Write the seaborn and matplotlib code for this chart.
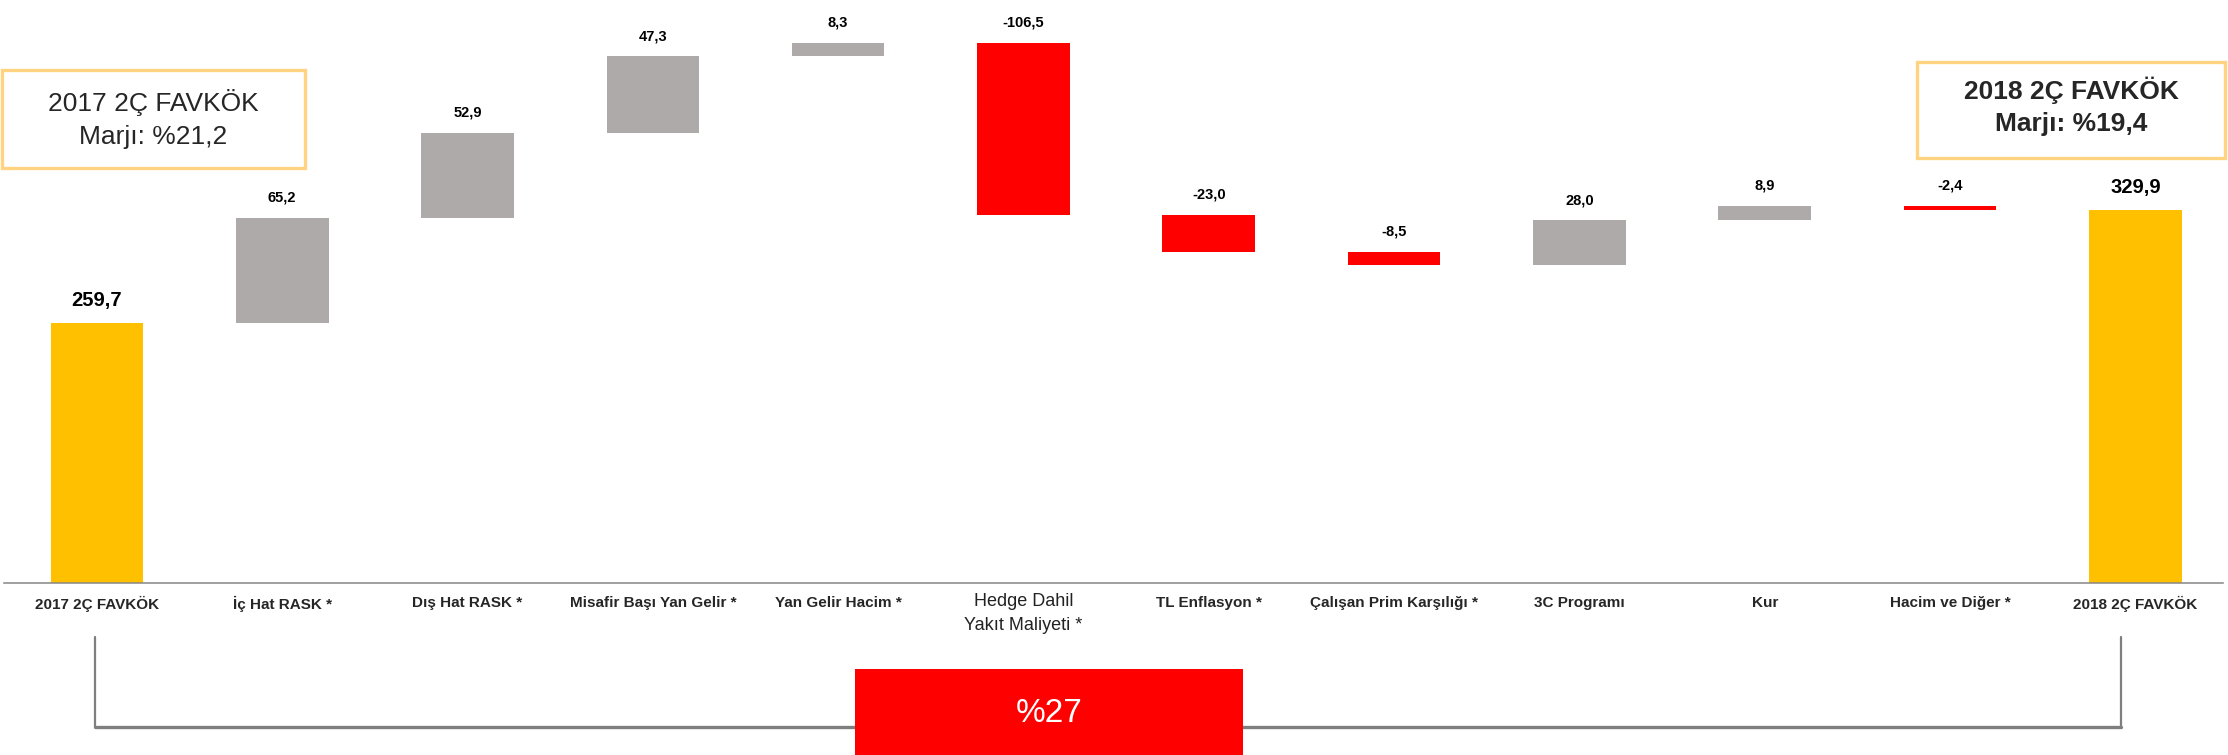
import numpy as np
import pandas as pd
import matplotlib
matplotlib.use('Agg')
import matplotlib.pyplot as plt
import seaborn as sns
from matplotlib.patches import Rectangle
from matplotlib.lines import Line2D

# data
categories = ['2017 2Ç FAVKÖK', 'İç Hat RASK *', 'Dış Hat RASK *', 'Misafir Başı Yan Gelir *',
              'Yan Gelir Hacim *', 'Hedge Dahil\nYakıt Maliyeti *', 'TL Enflasyon *',
              'Çalışan Prim Karşılığı *', '3C Programı', 'Kur', 'Hacim ve Diğer *', '2018 2Ç FAVKÖK']
values = [259.7, 65.2, 52.9, 47.3, 8.3, -106.5, -23.0, -8.5, 28.0, 8.9, -2.4, 329.9]
is_total = [True, False, False, False, False, False, False, False, False, False, False, True]
margin_2017 = 'Marjı: %21,2'
margin_2018 = 'Marjı: %19,4'
growth_label = '%27'

sns.set_style('white')
plt.rcParams['font.family'] = ['Liberation Sans', 'DejaVu Sans']

# waterfall start / end levels
starts, ends = [], []
running = 0.0
for v, tot in zip(values, is_total):
    if tot:
        starts.append(0.0)
        ends.append(v)
        running = v
    else:
        starts.append(running)
        running += v
        ends.append(running)

kind = ['total' if t else ('up' if v >= 0 else 'down') for v, t in zip(values, is_total)]
df = pd.DataFrame({'cat': categories, 'value': values,
                   'top': np.maximum(starts, ends), 'base': np.minimum(starts, ends),
                   'kind': kind})
palette = {'total': '#FFC000', 'up': '#AEAAAA', 'down': '#FF0000'}

W, H = 2228, 755
fig = plt.figure(figsize=(W / 100, H / 100), dpi=100)
ax = fig.add_axes([0, 1 - 582.5 / H, 1, 582.5 / H])

sns.barplot(data=df, x='cat', y='top', hue='kind', palette=palette, dodge=False,
            width=0.5, saturation=1, linewidth=0, errorbar=None, legend=False, ax=ax)
# mask the lower part of floating bars
sns.barplot(data=df, x='cat', y='base', color='white', width=0.5, saturation=1,
            linewidth=0, errorbar=None, ax=ax)

ax.set_ylim(98.5, 460.1)
ax.set_xlim(-0.523, 11.475)
ax.set_xlabel('')
ax.set_ylabel('')
ax.set_yticks([])
for s in ['top', 'left', 'right']:
    ax.spines[s].set_visible(False)
ax.spines['bottom'].set_color('#868686')
ax.spines['bottom'].set_linewidth(1.1)
ax.spines['bottom'].set_bounds(-0.5, 11.475)

ax.set_xticks(range(len(categories)))
ax.set_xticklabels([c if '\n' not in c else '' for c in categories],
                   fontsize=11, fontweight='bold')
ax.tick_params(axis='x', which='major', length=0, pad=9.5)
ax.set_xticks(np.arange(-0.5, len(categories), 1), minor=True)
ax.tick_params(axis='x', which='minor', length=3, width=1, color='#868686', direction='out')

for i, c in enumerate(categories):
    if '\n' in c:
        ax.annotate(c, xy=(i, 0), xycoords=('data', 'axes fraction'), xytext=(0, -22.5),
                    textcoords='offset points', ha='center', va='center',
                    fontsize=13, linespacing=1.55, color='#222222')

# value labels
for i, row in df.iterrows():
    txt = f"{row['value']:.1f}".replace('.', ',')
    big = is_total[i]
    ax.annotate(txt, xy=(i, row['top']), xytext=(0, 16 if big else 14.5),
                textcoords='offset points', ha='center', va='center',
                fontsize=14.5 if big else 10.5, fontweight='bold', color='black')

# margin boxes
def fx(px):
    return px / W

def fy(py):
    return 1 - py / H

fig.patches.append(Rectangle((fx(2), fy(168)), fx(303), 98 / H, transform=fig.transFigure,
                             facecolor='white', edgecolor='#FFD37F', linewidth=2.4))
fig.text(fx(153), fy(103), '2017 2Ç FAVKÖK', ha='center', va='center', fontsize=19)
fig.text(fx(153), fy(137), margin_2017, ha='center', va='center', fontsize=19)

fig.patches.append(Rectangle((fx(1917), fy(158)), fx(308), 96 / H, transform=fig.transFigure,
                             facecolor='white', edgecolor='#FFD37F', linewidth=2.4))
fig.text(fx(2071), fy(90), '2018 2Ç FAVKÖK', ha='center', va='center', fontsize=19,
         fontweight='bold')
fig.text(fx(2071), fy(124), margin_2018, ha='center', va='center', fontsize=19,
         fontweight='bold')

# growth bracket
grey = '#7F7F7F'
fig.lines.append(Line2D([fx(95), fx(95)], [fy(637), fy(727)], transform=fig.transFigure,
                        color=grey, linewidth=1.6))
fig.lines.append(Line2D([fx(2121), fx(2121)], [fy(637), fy(727)], transform=fig.transFigure,
                        color=grey, linewidth=1.6))
fig.lines.append(Line2D([fx(95), fx(2121)], [fy(727), fy(727)], transform=fig.transFigure,
                        color=grey, linewidth=2.4))
fig.patches.append(Rectangle((fx(855), 0), fx(388), (H - 669) / H, transform=fig.transFigure,
                             facecolor='#FF0000', edgecolor='none', zorder=5))
fig.text(fx(1049), fy(713), growth_label, ha='center', va='center', fontsize=24,
         color='white', zorder=6)

fig.savefig('out.png', dpi=100)
